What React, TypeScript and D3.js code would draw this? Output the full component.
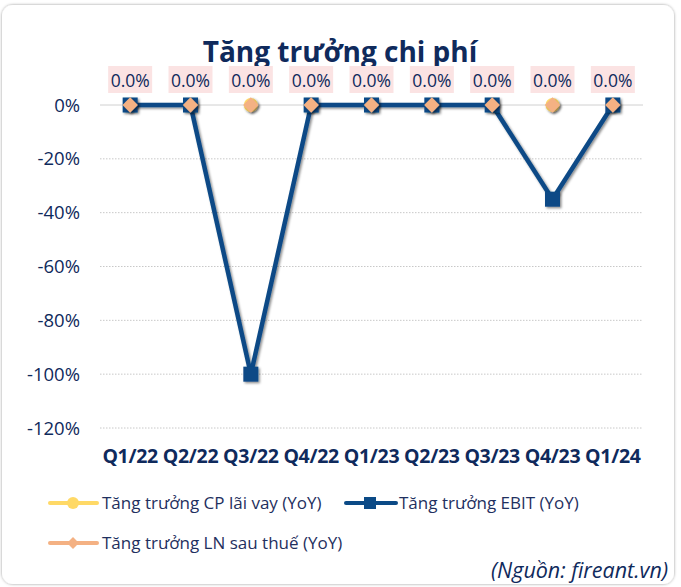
import React from "react";
import * as d3 from "d3";

const categories = ["Q1/22", "Q2/22", "Q3/22", "Q4/22", "Q1/23", "Q2/23", "Q3/23", "Q4/23", "Q1/24"];
const cpLaiVay = [0, 0, 0, 0, 0, 0, 0, 0, 0];
const ebit = [0, 0, -100, 0, 0, 0, 0, -35, 0];
const lnSauThue = [0, 0, 0, 0, 0, 0, 0, 0, 0];
const yTicks = [0, -20, -40, -60, -80, -100, -120];

const W = 681;
const H = 587;
const FONT = "'Open Sans', 'Noto Sans', sans-serif";
const NAVY = "#0f2a5c";
const C_CP = "#ffd966";
const C_EBIT = "#0b4a86";
const C_LN = "#f4b183";

export default function App() {
  const x = d3.scaleBand<string>().domain(categories).range([100, 643]);
  const y = d3.scaleLinear().domain([-120, 0]).range([428, 105]);
  const cx = (c: string) => (x(c) as number) + x.bandwidth() / 2;
  const line = d3
    .line<number>()
    .x((_, i) => cx(categories[i]))
    .y((d) => y(d));
  const diamond = d3.symbol().type(d3.symbolDiamond2).size(150);

  return (
    <svg
      width={W}
      height={H}
      style={{ position: "absolute", left: 0, top: 0, display: "block", background: "#ffffff" }}
    >
      <defs>
        <filter id="card" x="-5%" y="-5%" width="110%" height="110%">
          <feDropShadow dx="0" dy="0" stdDeviation="1.8" floodColor="#000" floodOpacity="0.4" />
        </filter>
        <filter id="sh" x="-30%" y="-30%" width="160%" height="160%">
          <feDropShadow dx="1.5" dy="1.5" stdDeviation="1" floodColor="#000" floodOpacity="0.45" />
        </filter>
      </defs>
      <rect x={2} y={5} width={672} height={579} rx={11} fill="#fff" filter="url(#card)" />

      {/* title */}
      <text x={340} y={62} textAnchor="middle" fontFamily={FONT} fontWeight={700} fontSize={28} fill={NAVY}>
        Tăng trưởng chi phí
      </text>

      {/* grid */}
      {yTicks.map((t) => (
        <g key={t}>
          <line
            x1={100}
            x2={643}
            y1={y(t)}
            y2={y(t)}
            stroke={t === 0 ? "#d0d0d0" : "#c8c8c8"}
            strokeWidth={1}
            strokeDasharray={t === 0 ? undefined : "1.5,1.5"}
          />
          <text x={80} y={y(t) + 6.5} textAnchor="end" fontFamily={FONT} fontSize={18.5} fill={NAVY}>
            {t}%
          </text>
        </g>
      ))}

      {/* x labels */}
      {categories.map((c) => (
        <text
          key={c}
          x={cx(c)}
          y={463}
          textAnchor="middle"
          fontFamily={FONT}
          fontWeight={700}
          fontSize={19.5}
          letterSpacing={-0.3}
          fill={NAVY}
        >
          {c}
        </text>
      ))}

      {/* CP lai vay */}
      <path d={line(cpLaiVay) as string} fill="none" stroke={C_CP} strokeWidth={3.5} filter="url(#sh)" />
      {cpLaiVay.map((v, i) => (
        <circle key={i} cx={cx(categories[i])} cy={y(v)} r={7} fill={C_CP} filter="url(#sh)" />
      ))}

      {/* EBIT */}
      <path d={line(ebit) as string} fill="none" stroke={C_EBIT} strokeWidth={4.5} strokeLinejoin="round" filter="url(#sh)" />
      {ebit.map((v, i) => (
        <rect key={i} x={cx(categories[i]) - 7.5} y={y(v) - 7.5} width={15} height={15} fill={C_EBIT} filter="url(#sh)" />
      ))}

      {/* LN sau thue */}
      <path d={line(lnSauThue) as string} fill="none" stroke={C_LN} strokeWidth={3.5} filter="url(#sh)" />
      {lnSauThue.map((v, i) => (
        <path
          key={i}
          d={diamond() as string}
          transform={`translate(${cx(categories[i])},${y(v)})`}
          fill={C_LN}
          filter="url(#sh)"
        />
      ))}

      {/* data labels */}
      {lnSauThue.map((v, i) => (
        <g key={i}>
          <rect x={cx(categories[i]) - 22} y={66} width={44} height={27} fill="#fbe3e3" />
          <text x={cx(categories[i])} y={87} textAnchor="middle" fontFamily={FONT} fontSize={17.5} fill={NAVY}>
            {v.toFixed(1)}%
          </text>
        </g>
      ))}

      {/* legend */}
      <g fontFamily={FONT} fontSize={17} fill="#1f3060">
        <line x1={50} x2={97} y1={503} y2={503} stroke={C_CP} strokeWidth={4} strokeLinecap="round" />
        <circle cx={73} cy={503} r={6} fill={C_CP} />
        <text x={102} y={509}>Tăng trưởng CP lãi vay (YoY)</text>

        <line x1={346} x2={396} y1={503} y2={503} stroke={C_EBIT} strokeWidth={4} strokeLinecap="round" />
        <rect x={364} y={497} width={12} height={12} fill={C_EBIT} />
        <text x={399} y={509}>Tăng trưởng EBIT (YoY)</text>

        <line x1={50} x2={97} y1={543} y2={543} stroke={C_LN} strokeWidth={4} strokeLinecap="round" />
        <path d={d3.symbol().type(d3.symbolDiamond2).size(90)() as string} transform="translate(73,543)" fill={C_LN} />
        <text x={102} y={549}>Tăng trưởng LN sau thuế (YoY)</text>
      </g>

      <text x={668} y={578} textAnchor="end" fontFamily={FONT} fontStyle="italic" fontSize={21.5} fill={NAVY}>
        (Nguồn: fireant.vn)
      </text>
    </svg>
  );
}
